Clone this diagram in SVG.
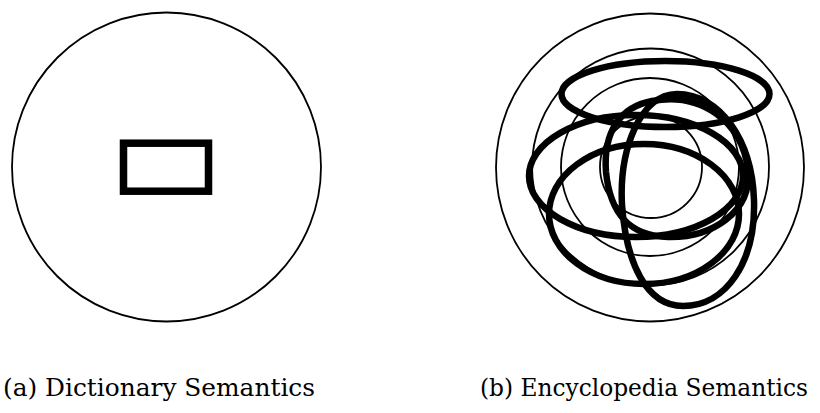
<svg xmlns="http://www.w3.org/2000/svg" width="820" height="413" viewBox="0 0 820 413">
  <style>
    .thin { fill: none; stroke: #000; stroke-width: 1.8; }
    .thick { fill: none; stroke: #000; stroke-width: 6.5; stroke-linecap: round; stroke-linejoin: round; }
    .box { fill: none; stroke: #000; stroke-width: 7.5; }
    .caption { font-family: "DejaVu Serif", "Liberation Serif", serif; font-size: 24px; fill: #000; }
  </style>
  <rect width="820" height="413" fill="#fff"/>

  <!-- (a) a single bounded sense inside the conceptual space -->
  <g id="dictionary">
    <circle class="thin" cx="166.5" cy="167" r="154.5"/>
    <rect class="box" x="123.5" y="143.2" width="85" height="48"/>
  </g>

  <!-- (b) concentric domains crossed by overlapping tangled senses -->
  <g id="encyclopedia">
    <circle class="thin" cx="650" cy="167.5" r="154"/>
    <circle class="thin" cx="650.5" cy="167" r="118.5"/>
    <circle class="thin" cx="650" cy="167" r="89"/>
    <circle class="thin" cx="651" cy="167" r="51"/>

    <!-- top flat loop -->
    <ellipse class="thick" cx="665.5" cy="94" rx="104" ry="33"/>
    <!-- wide middle loop -->
    <ellipse class="thick" cx="636" cy="176" rx="107" ry="61"/>
    <!-- lower loop -->
    <ellipse class="thick" cx="644" cy="214" rx="95" ry="70"/>
    <!-- tall loop -->
    <path class="thick" d="M677,94 C720,94 752,140 754,200 C756,262 726,306 683,306 C646,306 626,262 622,205 C619,150 640,94 677,94 Z"/>
    <!-- inner loop sharing the right side -->
    <path class="thick" d="M652,101 C700,92 742,120 748,170 C752,212 712,238 668,237 C628,236 610,212 606,172 C603,132 620,107 652,101 Z"/>
  </g>

  <g id="captions">
    <text class="caption" x="3" y="396" textLength="312" lengthAdjust="spacingAndGlyphs">(a) Dictionary Semantics</text>
    <text class="caption" x="480" y="396" textLength="328" lengthAdjust="spacingAndGlyphs">(b) Encyclopedia Semantics</text>
  </g>
</svg>
